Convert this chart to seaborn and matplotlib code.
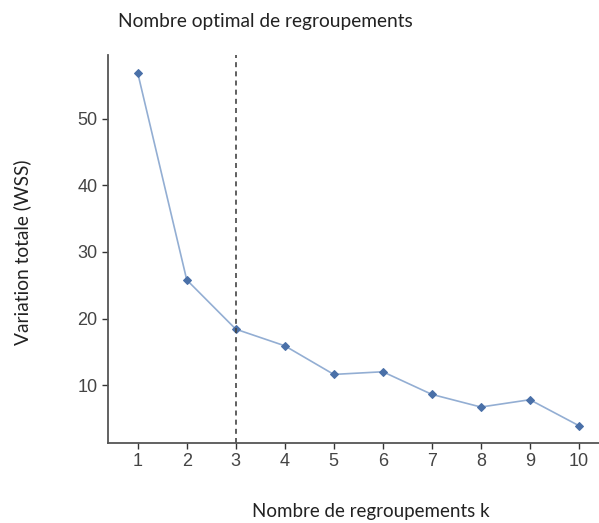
import matplotlib
matplotlib.use("Agg")
import matplotlib.pyplot as plt
import seaborn as sns
import pandas as pd

# elbow curve values
k_values = [1, 2, 3, 4, 5, 6, 7, 8, 9, 10]
wss = [56.9, 25.8, 18.4, 15.9, 11.6, 12.0, 8.6, 6.7, 7.8, 3.9]
optimal_k = 3
y_ticks = [10, 20, 30, 40, 50]

df = pd.DataFrame({"k": k_values, "wss": wss})

sns.set_theme(style="ticks")
plt.rcParams["font.family"] = ["Liberation Sans", "DejaVu Sans"]

fig = plt.figure(figsize=(5.99, 5.23), dpi=100)
ax = fig.add_axes([0.180, 0.153, 0.820, 0.742])

sns.lineplot(data=df, x="k", y="wss", ax=ax, color="#93aed3", linewidth=1.2,
             marker="D", markersize=4.5, markerfacecolor="#4a70a8",
             markeredgecolor="#4a70a8")
ax.axvline(optimal_k, color="#444444", linestyle=(0, (3, 2.5)), linewidth=1.2)

ax.set_xlim(0.39, 10.41)
ax.set_ylim(1.3, 59.6)
ax.set_xticks(k_values)
ax.set_yticks(y_ticks)
ax.tick_params(axis="both", labelsize=13, colors="#333333", length=4,
               width=1, labelcolor="#444444")
for side in ["top", "right"]:
    ax.spines[side].set_visible(False)
for side in ["left", "bottom"]:
    ax.spines[side].set_color("#555555")
    ax.spines[side].set_linewidth(1.3)

ax.set_xlabel("")
ax.set_ylabel("")
label_font = ["Lato", "DejaVu Sans"]
fig.text(265 / 599, 1 - 22 / 523, "Nombre optimal de regroupements",
         ha="center", va="center", fontsize=13.8, family=label_font,
         color="#222222")
fig.text(371 / 599, 1 - 512 / 523, "Nombre de regroupements k",
         ha="center", va="center", fontsize=13.5, family=label_font,
         color="#222222")
fig.text(22 / 599, 1 - 252 / 523, "Variation totale (WSS)", rotation=90,
         ha="center", va="center", fontsize=13.8, family=label_font,
         color="#222222")

fig.savefig("out.png", dpi=100)
